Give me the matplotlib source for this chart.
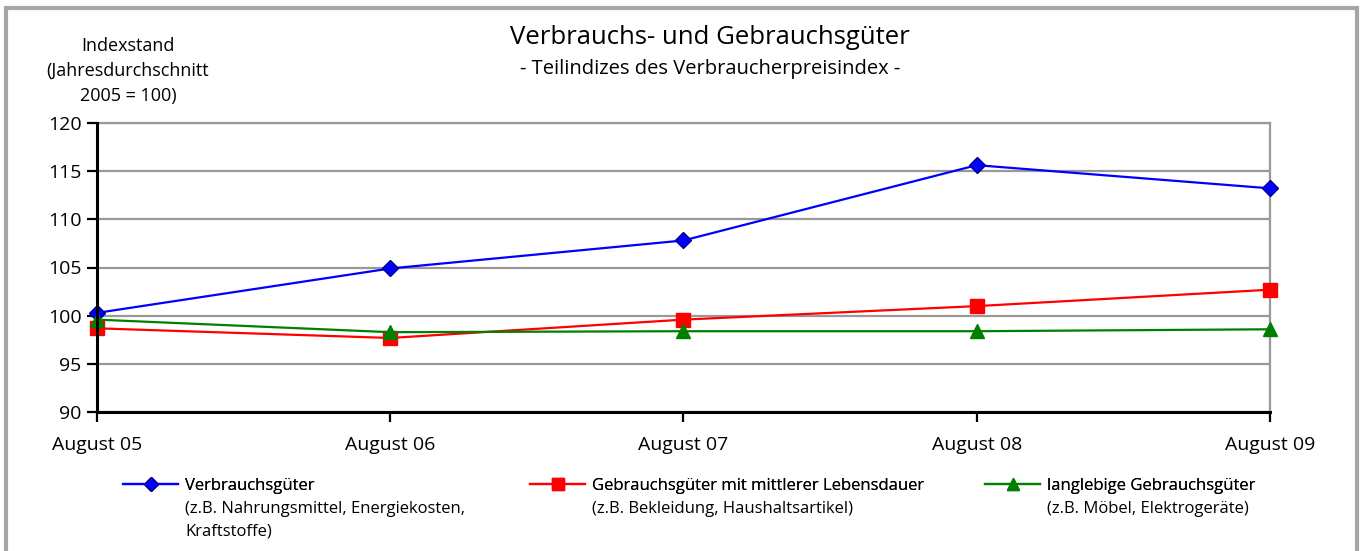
import matplotlib
matplotlib.use("Agg")
import matplotlib.pyplot as plt
from matplotlib.patches import Rectangle
from matplotlib.lines import Line2D

plt.rcParams['font.family'] = ['Open Sans', 'DejaVu Sans']

# Daten (Indexstand, 2005 = 100)
kategorien = ["August 05", "August 06", "August 07", "August 08", "August 09"]
verbrauchsgueter = [100.3, 104.9, 107.8, 115.6, 113.2]
gebrauchsgueter_mittel = [98.7, 97.7, 99.6, 101.0, 102.7]
langlebige_gueter = [99.6, 98.3, 98.4, 98.4, 98.6]

y_ticks = [90, 95, 100, 105, 110, 115, 120]

serien_namen = ["Verbrauchsgüter",
                "Gebrauchsgüter mit mittlerer Lebensdauer",
                "langlebige Gebrauchsgüter"]
serien_text = ["(z.B. Nahrungsmittel, Energiekosten,\nKraftstoffe)",
               "(z.B. Bekleidung, Haushaltsartikel)",
               "(z.B. Möbel, Elektrogeräte)"]

fig = plt.figure(figsize=(13.65, 5.51), dpi=100)

# grauer Rahmen um die Grafik
fig.patches.append(Rectangle((6 / 1365, -0.05), 1351 / 1365, 1.05 - 8 / 551,
                             transform=fig.transFigure, fill=False,
                             edgecolor="#a6a6a6", linewidth=3))

ax = fig.add_axes([97 / 1365, 1 - 412.3 / 551, 1173 / 1365, 289.6 / 551])

x = list(range(len(kategorien)))
farben = ["#0000ff", "#ff0000", "#008000"]
marker = ["D", "s", "^"]
groessen = [8, 10, 10]
werte = [verbrauchsgueter, gebrauchsgueter_mittel, langlebige_gueter]

handles = []
for w, c, m, s in zip(werte, farben, marker, groessen):
    mec = "#00008b" if m == "D" else c
    h, = ax.plot(x, w, color=c, marker=m, markersize=s, markerfacecolor=c,
                 markeredgecolor=mec, linewidth=1.6, zorder=3, clip_on=False)
    handles.append(h)

ax.set_xlim(0, 4)
ax.set_ylim(90, 120)
ax.set_yticks(y_ticks)
ax.set_xticks(x)
ax.set_xticklabels(kategorien)
ax.yaxis.grid(True, color="#999999", linewidth=1.6)
ax.set_axisbelow(True)

for side in ("top", "right"):
    ax.spines[side].set_color("#999999")
    ax.spines[side].set_linewidth(1.6)
for side in ("left", "bottom"):
    ax.spines[side].set_color("black")
    ax.spines[side].set_linewidth(2.2)
    ax.spines[side].set_zorder(4)

ax.tick_params(axis="y", length=7, width=1.6, labelsize=14, pad=4)
ax.tick_params(axis="x", length=7, width=1.6, labelsize=14, pad=10)

# Titel
fig.text(710 / 1365, 1 - 38 / 551, "Verbrauchs- und Gebrauchsgüter",
         ha="center", va="center", fontsize=18.5)
fig.text(710 / 1365, 1 - 69 / 551, "- Teilindizes des Verbraucherpreisindex -",
         ha="center", va="center", fontsize=14.5)

# Achsenbeschriftung
fig.text(128 / 1365, 1 - 71 / 551, "Indexstand\n(Jahresdurchschnitt\n2005 = 100)",
         ha="center", va="center", fontsize=13, linespacing=1.5)

# Legende
legend_x = [123 / 1365, 530 / 1365, 985 / 1365]
for h, name, text, lx in zip(handles, serien_namen, serien_text, legend_x):
    proxy = Line2D([], [], color=h.get_color(), marker=h.get_marker(),
                   markersize=h.get_markersize() - 1, markerfacecolor=h.get_color(),
                   markeredgecolor=h.get_markeredgecolor(), linewidth=1.6)
    leg = fig.legend([proxy], [name], loc="center left",
                     bbox_to_anchor=(lx, 1 - 486 / 551), frameon=False,
                     fontsize=12, handlelength=3.3, handletextpad=0.4,
                     borderpad=0, borderaxespad=0)
    fig.add_artist(leg)
    fig.text(lx + 62 / 1365, 1 - 501 / 551, text, ha="left", va="top",
             fontsize=12, linespacing=1.55)

fig.savefig("out.png", dpi=100)
